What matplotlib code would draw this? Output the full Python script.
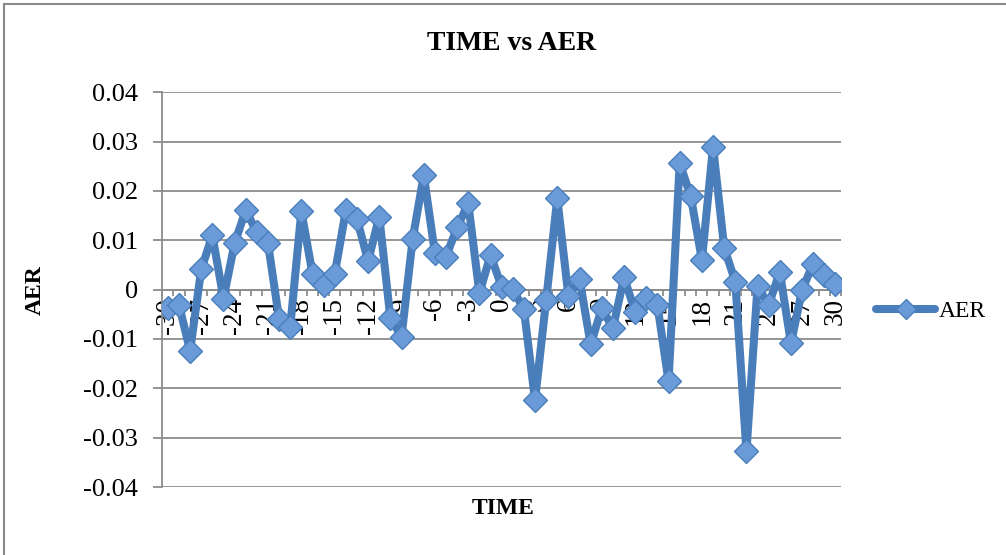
import matplotlib
matplotlib.use("Agg")
import matplotlib.pyplot as plt
from matplotlib.lines import Line2D
import numpy as np

# ---- data ----
TIME = [-30, -29, -28, -27, -26, -25, -24, -23, -22, -21, -20, -19, -18, -17, -16,
        -15, -14, -13, -12, -11, -10, -9, -8, -7, -6, -5, -4, -3, -2, -1,
        0, 1, 2, 3, 4, 5, 6, 7, 8, 9, 10, 11, 12, 13, 14,
        15, 16, 17, 18, 19, 20, 21, 22, 23, 24, 25, 26, 27, 28, 29, 30]
AER = [-0.0038, -0.0031, -0.0124, 0.0041, 0.0110, -0.0018, 0.0094, 0.0161, 0.0116, 0.0094,
       -0.0060, -0.0075, 0.0159, 0.0032, 0.0010, 0.0032, 0.0161, 0.0143, 0.0058, 0.0148,
       -0.0058, -0.0095, 0.0102, 0.0232, 0.0074, 0.0067, 0.0126, 0.0175, -0.0007, 0.0070,
       0.0006, 0.0001, -0.0040, -0.0224, -0.0021, 0.0185, -0.0013, 0.0022, -0.0111, -0.0038,
       -0.0078, 0.0025, -0.0045, -0.0016, -0.0031, -0.0186, 0.0256, 0.0189, 0.0060, 0.0290,
       0.0085, 0.0016, -0.0328, 0.0007, -0.0031, 0.0036, -0.0109, -0.0001, 0.0053, 0.0030,
       0.0011]
X_TICKS = [-30, -27, -24, -21, -18, -15, -12, -9, -6, -3, 0, 3, 6, 9, 12, 15, 18, 21, 24, 27, 30]
X_TICK_LABELS = ["-30", "-27", "-24", "-21", "-18", "-15", "-12", "-9", "-6", "-3", "0",
                 "3", "6", "9", "12", "15", "18", "21", "24", "27", "30"]
Y_TICKS = [-0.04, -0.03, -0.02, -0.01, 0.0, 0.01, 0.02, 0.03, 0.04]
Y_TICK_LABELS = ["-0.04", "-0.03", "-0.02", "-0.01", "0", "0.01", "0.02", "0.03", "0.04"]

SERIF = ["Liberation Serif", "DejaVu Serif"]
plt.rcParams["font.family"] = SERIF
GRID = "#8c8c8c"
LINE = "#4a7ebb"

W, H = 1006, 555
fig = plt.figure(figsize=(W / 100, H / 100), dpi=100)

# outer chart border (left and top visible)
fig.add_artist(Line2D([4 / W, 4 / W], [0, 1 - 4 / H], color="#8a8a8a", lw=1.5))
fig.add_artist(Line2D([4 / W, 1], [1 - 4 / H, 1 - 4 / H], color="#8a8a8a", lw=1.5))

left, right, top, bottom = 162.3, 841.0, 92.3, 487.0
ax = fig.add_axes([left / W, 1 - bottom / H, (right - left) / W, (bottom - top) / H])

ax.plot(TIME, AER, color=LINE, lw=5.8, marker="D", markersize=12,
        markerfacecolor="#6a9ad8", markeredgecolor="#4a7ebb", markeredgewidth=1.0,
        solid_joinstyle="round", solid_capstyle="round", label="AER", zorder=3)

ax.set_xlim(-30.5, 30.5)
ax.set_ylim(-0.04, 0.04)

ax.set_yticks(Y_TICKS)
ax.set_yticklabels(Y_TICK_LABELS)
ax.tick_params(axis="y", length=6.5, width=1.3, color=GRID, pad=11, labelsize=19)

ax.set_xticks(X_TICKS)
ax.set_xticklabels(X_TICK_LABELS)
ax.set_xticks(np.arange(-30.5, 31.0, 1.0), minor=True)
ax.tick_params(axis="x", which="major", length=0, pad=6, labelsize=19.5, labelrotation=90)
ax.tick_params(axis="x", which="minor", length=4.5, width=1.3, color=GRID, direction="out")
for t in ax.get_xticklabels():
    t.set_va("top")
    t.set_ha("center")

ax.yaxis.grid(True, color=GRID, lw=1.3)
ax.set_axisbelow(True)
for s in ["top", "right"]:
    ax.spines[s].set_visible(False)
ax.spines["bottom"].set_position(("data", 0))
ax.spines["bottom"].set_color(GRID)
ax.spines["bottom"].set_linewidth(1.3)
ax.spines["left"].set_color(GRID)
ax.spines["left"].set_linewidth(1.3)
ax.patch.set_alpha(0)

fig.text(512 / W, 1 - 43 / H, "TIME vs AER", fontsize=20,
         fontweight="bold", ha="center", va="center")
fig.text(35 / W, 1 - 290 / H, "AER", fontsize=17, fontweight="bold",
         rotation=90, ha="center", va="center")
fig.text(503 / W, 1 - 508 / H, "TIME", fontsize=17, fontweight="bold",
         ha="center", va="center")

leg = fig.legend(loc="center left", bbox_to_anchor=(876 / W, 1 - 311 / H), frameon=False,
                 prop={"size": 17}, handlelength=2.5, handletextpad=0.15,
                 borderpad=0, borderaxespad=0, markerscale=0.85)

fig.savefig("out.png", dpi=100)
